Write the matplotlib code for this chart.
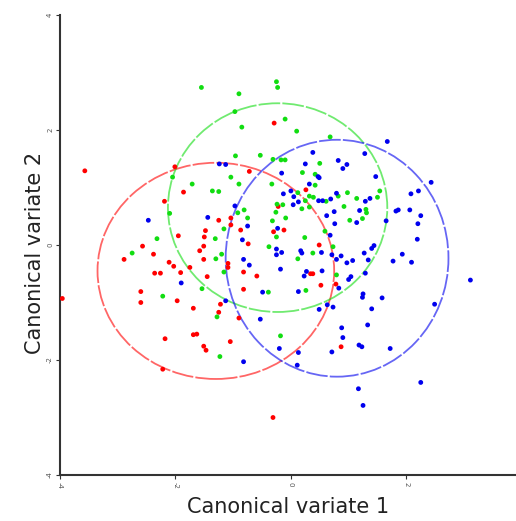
import matplotlib
matplotlib.use("Agg")
import matplotlib.pyplot as plt
from matplotlib.patches import Ellipse

# ---- data (canonical variate scores) ----
red_x = [-3.57, -0.29, -2.01, -0.72, -1.86, -2.19, -1.25, -1.04, -1.04, -1.48, -0.87, -1.95, -1.50, -0.74,
         0.26, -0.22, -0.12, -0.30, 0.49, -2.57, -2.38, -1.51, -1.58, -2.89, -2.11, -2.03, -1.51, -2.36,
         -2.26, -1.91, -1.75, -1.09, -1.09, -0.82, -0.59, -1.45, -2.60, -2.60, -1.97, -0.82, -1.22, -1.69,
         -1.25, -0.90, -1.69, -1.63, -2.18, -1.51, -1.47, -1.05, -2.22, -3.96, 0.34, 0.38, 0.52, 0.78,
         0.87, -0.31]
red_y = [1.29, 2.12, 1.36, 1.28, 0.92, 0.76, 0.43, 0.47, 0.35, 0.25, 0.26, 0.16, 0.14, 0.02,
         0.96, 0.67, 0.26, 0.23, 0.00, -0.02, -0.16, -0.02, -0.10, -0.25, -0.30, -0.37, -0.25, -0.49,
         -0.49, -0.48, -0.39, -0.32, -0.39, -0.47, -0.54, -0.55, -0.81, -1.00, -0.97, -0.77, -1.03, -1.10,
         -1.17, -1.27, -1.56, -1.55, -1.63, -1.76, -1.83, -1.68, -2.16, -0.93, -0.50, -0.50, -0.70, -0.68,
         -1.77, -3.00]

green_x = [-1.55, -0.90, -0.97, -0.85, -0.25, -0.23, -0.10, 0.10, 0.68, -0.96, -0.53, -0.31, -0.17, -0.10,
           -2.05, -1.04, -1.71, -0.90, -1.36, -1.25, -2.10, -0.92, -0.81, -0.26, -0.75, -1.16, -0.32, -2.32,
           -1.31, -0.25, -0.24, -0.14, 0.50, 0.20, 0.42, -0.33, 0.12, 0.42, 0.98, 1.54, 1.50, 0.25,
           0.32, 0.39, 0.61, 0.82, 1.14, 0.19, 0.32, 0.92, 1.30, 1.31, 1.02, 1.24, -0.09, 0.24,
           0.59, 0.73, 0.12, 0.38, 0.79, 0.26, -0.18, -1.20, -1.30, -0.38, -1.16, -2.22, -1.54, -0.39,
           -1.28, -1.23, -2.75]
green_y = [2.74, 2.63, 2.32, 2.05, 2.84, 2.74, 2.19, 1.98, 1.88, 1.55, 1.56, 1.49, 1.48, 1.48,
           1.18, 1.18, 1.06, 1.06, 0.94, 0.93, 0.55, 0.56, 0.61, 0.57, 0.47, 0.28, 0.42, 0.11,
           0.11, 0.14, 0.71, 0.70, 1.42, 1.26, 1.23, 1.06, 0.91, 1.04, 0.91, 0.94, 0.83, 0.77,
           0.85, 0.83, 0.76, 0.85, 0.81, 0.63, 0.66, 0.67, 0.62, 0.56, 0.43, 0.46, 0.47, 0.13,
           0.24, -0.03, -0.24, -0.14, -0.52, -0.79, -1.58, -0.16, -0.24, -0.03, -0.47, -0.89, -0.76, -0.82,
           -1.25, -1.94, -0.14]

blue_x = [1.67, -1.24, -1.13, -0.97, -2.47, -1.44, -0.75, -0.23, -0.84, 0.38, 1.28, 0.25, 0.82, 0.97,
          0.90, -0.16, 0.47, 0.49, 1.47, 0.32, 0.00, -0.13, 0.79, 0.05, 0.13, 0.48, 0.55, 0.69,
          1.29, 1.37, 1.19, 0.75, 0.62, 1.14, 0.76, 1.65, 0.04, 0.68, 2.43, 2.21, 2.08, 1.82,
          1.86, 2.06, 2.25, 2.20, 2.19, 1.93, 1.77, 2.09, 3.11, 2.49, 1.72, 2.25, -0.25, -0.25,
          -0.16, 0.17, 0.19, 0.53, 0.71, 0.87, 0.79, 0.97, 1.07, 1.27, 1.40, 1.44, 1.34, -0.18,
          0.27, 0.23, 0.54, 1.29, 1.00, 1.04, 0.13, 0.83, 1.25, 1.24, 1.58, 0.49, 0.63, 0.73,
          1.40, 0.88, 1.33, 0.90, -0.20, 0.13, 0.11, 0.71, 1.18, 1.23, 1.17, 1.25, -0.82, -0.72,
          -1.90, -0.49, -1.13, -0.53, -0.82]
blue_y = [1.80, 1.41, 1.40, 0.68, 0.43, 0.48, 0.33, 0.29, 0.09, 1.61, 1.59, 1.41, 1.47, 1.40,
          1.33, 1.25, 1.19, 1.17, 1.19, 1.06, 0.94, 0.89, 0.90, 0.84, 0.75, 0.77, 0.77, 0.80,
          0.76, 0.81, 0.60, 0.58, 0.51, 0.39, 0.37, 0.42, 0.70, 0.17, 1.09, 0.94, 0.89, 0.59,
          0.61, 0.61, 0.51, 0.37, 0.10, -0.16, -0.28, -0.30, -0.61, -1.03, -1.80, -2.39, -0.07, -0.17,
          -0.13, -0.10, -0.14, -0.13, -0.17, -0.19, -0.25, -0.31, -0.27, -0.14, -0.06, -0.01, -0.26, -0.42,
          -0.46, -0.54, -0.45, -0.49, -0.60, -0.55, -0.81, -0.75, -0.85, -0.91, -0.92, -1.12, -1.04, -1.08,
          -1.11, -1.44, -1.39, -1.61, -1.80, -1.87, -2.09, -1.86, -1.74, -1.77, -2.50, -2.79, -0.25, -0.35,
          -0.66, -0.82, -0.97, -1.29, -2.03]

# group centroid ellipses: centre x, centre y, width, height
ell_red = (-1.30, -0.45, 4.10, 3.76)
ell_green = (-0.23, 0.65, 3.80, 3.63)
ell_blue = (0.80, -0.23, 3.86, 4.12)

ticks = [-4, -2, 0, 2, 4]
tick_labels = ["-4", "-2", "0", "2", "4"]

# ---- plot ----
fig = plt.figure(figsize=(5.16, 5.21), dpi=100)
ax = fig.add_axes([60 / 516, 46 / 521, 456 / 516, 460 / 521])

c_red, c_green, c_blue = "#ff0000", "#11dd11", "#0000ee"

for (cx, cy, w, h), col in [(ell_red, c_red), (ell_green, c_green), (ell_blue, c_blue)]:
    e = Ellipse((cx, cy), w, h, fill=False, edgecolor=col, alpha=0.6,
                linewidth=1.3, linestyle=(0, (12, 1.2)))
    ax.add_patch(e)

ax.scatter(red_x, red_y, s=12, color=c_red, edgecolors="none", zorder=3)
ax.scatter(green_x, green_y, s=12, color=c_green, edgecolors="none", zorder=3)
ax.scatter(blue_x, blue_y, s=12, color=c_blue, edgecolors="none", zorder=3)

ax.set_xlim(-4, 3.9)
ax.set_ylim(-4, 4)
ax.set_xticks(ticks[:4])
ax.set_xticklabels(tick_labels[:4], rotation=-90, fontsize=5, color="#555555")
ax.set_yticks(ticks)
ax.set_yticklabels(tick_labels, rotation=90, fontsize=5, color="#555555", va="center")
ax.tick_params(length=3, width=0.8, color="#333333", pad=2)

for s in ["top", "right"]:
    ax.spines[s].set_visible(False)
for s in ["left", "bottom"]:
    ax.spines[s].set_color("#333333")
    ax.spines[s].set_linewidth(1.5)

fig.text(288 / 516, (521 - 507) / 521, "Canonical variate 1", ha="center", va="center",
         fontsize=15, color="#222222")
fig.text(35 / 516, (521 - 253) / 521, "Canonical variate 2", ha="center", va="center",
         rotation=90, fontsize=15, color="#222222")

fig.savefig("out.png", dpi=100)
